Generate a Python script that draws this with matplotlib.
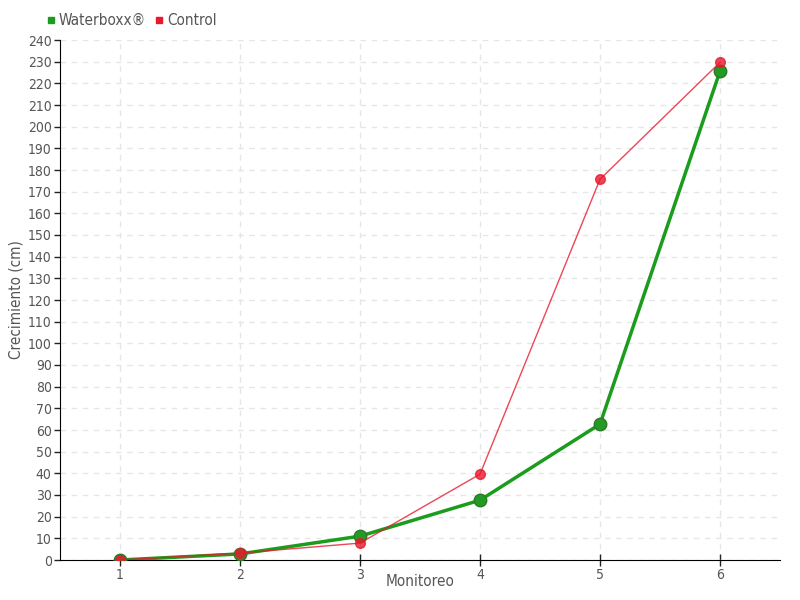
import numpy as np
import matplotlib.pyplot as plt
from matplotlib.lines import Line2D

plt.rcParams['font.family'] = ['DejaVu Sans']
plt.rcParams['font.stretch'] = 'condensed'

# Данные
monitoreo = [1, 2, 3, 4, 5, 6]
waterboxx = [0, 2.8, 11, 27.6, 62.7, 225.6]
control = [0, 3.2, 7.8, 39.6, 175.7, 229.7]
y_ticks = np.arange(0, 241, 10)

verde = '#1c9c1c'
rojo = '#e8192c'
gris = '#555555'

fig = plt.figure(figsize=(8, 6), dpi=100)
ax = fig.add_axes([60 / 800, 40 / 600, 720 / 800, 520 / 600])

ax.plot(monitoreo, waterboxx, color=verde, lw=2.5, marker='o', ms=9,
        markerfacecolor='#239a23', markeredgecolor='#2a7a2a', markeredgewidth=1, zorder=3)
ax.plot(monitoreo, control, color=rojo, lw=1, alpha=0.8, marker='o', ms=7,
        markerfacecolor=rojo, markeredgecolor=rojo, zorder=4)

ax.set_xlim(0.5, 6.5)
ax.set_ylim(0, 240)
ax.set_xticks(monitoreo)
ax.set_yticks(y_ticks)
ax.tick_params(colors='#222222', labelsize=10, length=4, width=1, pad=2)
ax.tick_params(axis='x', direction='inout', length=8)
for lab in ax.get_xticklabels() + ax.get_yticklabels():
    lab.set_color(gris)
ax.grid(True, color='#e6e6e6', linestyle=(0, (4, 4)), lw=1)
for s in ['top', 'right']:
    ax.spines[s].set_visible(False)
ax.set_xlabel('Monitoreo', color=gris, fontsize=11)
ax.set_ylabel('Crecimiento (cm)', color=gris, fontsize=11)
ax.xaxis.set_label_coords(0.5, -0.026)
ax.yaxis.set_label_coords(-0.05, 0.5)

handles = [Line2D([], [], marker='s', ls='', color=verde, ms=5),
           Line2D([], [], marker='s', ls='', color=rojo, ms=5)]
fig.legend(handles, ['Waterboxx®', 'Control'], loc='upper left',
           bbox_to_anchor=(46 / 800, 1 - 13 / 600), ncol=2, frameon=False,
           fontsize=11, handlelength=0.6, handletextpad=0.2, columnspacing=0.6,
           labelcolor=gris, borderaxespad=0, borderpad=0)

plt.savefig('out.png', dpi=100)
